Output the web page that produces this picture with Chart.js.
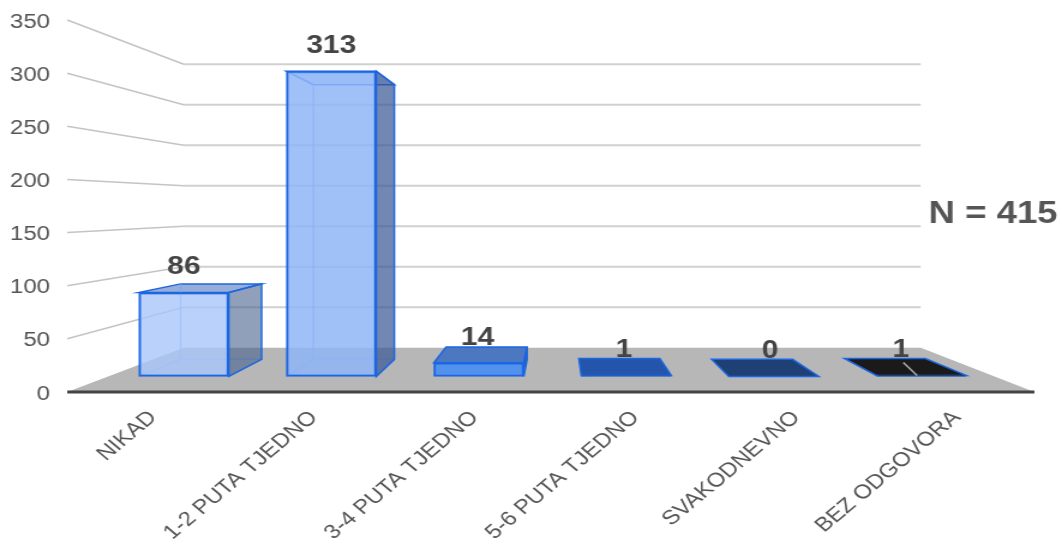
<!DOCTYPE html>
<html lang="en">
<head>
<meta charset="UTF-8">
<title>N = 415</title>
<script src="https://cdn.jsdelivr.net/npm/chart.js"></script>
<style>
    html, body { margin: 0; padding: 0; background: #fff; overflow: hidden; }
    /* the reference is a narrower picture stretched sideways and a bit soft, so the canvas is too */
    #chart { display: block; width: 1062px !important; height: 546px !important; filter: blur(0.5px); }
</style>
</head>
<body>
<canvas id="chart" width="885" height="546"></canvas>
<script>
const categories = ['NIKAD', '1-2 PUTA TJEDNO', '3-4 PUTA TJEDNO', '5-6 PUTA TJEDNO', 'SVAKODNEVNO', 'BEZ ODGOVORA'];
const values = [86, 313, 14, 1, 0, 1];
const totalLabel = 'N = 415';

const frontFill = ['rgba(169,199,250,.8)', 'rgba(143,181,247,.85)', '#5391ef', '#2356ab', '#1f4075', '#1a1a1a'];
const topFill = ['rgba(80,120,190,.6)', 'rgba(90,140,230,.25)', '#4b78c0', '#2356ab', '#1f4075', '#1a1a1a'];
const sideFill = ['rgba(70,95,140,.6)', 'rgba(60,90,150,.72)', '#2a5cab', '#2356ab', '#1f4075', '#1a1a1a'];
const labelShift = [0, 0, -1, -2, -3, -17];

// vanishing point of the fake 3D box
const vpX = 464, vpY = 206;
const barDepth = 0.9, wallDepth = 0.762;
const project = (x, y, k) => [vpX + k * (x - vpX), vpY + k * (y - vpY)];

function quad(ctx, pts, fill, stroke, lw) {
    ctx.beginPath();
    pts.forEach((p, i) => i ? ctx.lineTo(p[0], p[1]) : ctx.moveTo(p[0], p[1]));
    ctx.closePath();
    if (fill) { ctx.fillStyle = fill; ctx.fill(); }
    if (stroke) { ctx.strokeStyle = stroke; ctx.lineWidth = lw; ctx.stroke(); }
}

const box3d = {
    id: 'box3d',
    beforeDatasetsDraw(chart) {
        const ctx = chart.ctx, y = chart.scales.y;
        const left = 56, right = 862;
        ctx.save();
        // floor
        const z = y.getPixelForValue(0);
        quad(ctx, [[left, z], [right, z], project(right, z, wallDepth), project(left, z, wallDepth)], '#b7b7b7');
        // side wall and back wall lines
        y.ticks.forEach(t => {
            if (t.value === 0) return;
            const py = y.getPixelForValue(t.value);
            const a = project(left, py, wallDepth), b = project(right, py, wallDepth);
            ctx.strokeStyle = '#c4c4c4';
            ctx.lineWidth = 1.6;
            ctx.beginPath();
            ctx.moveTo(left, py);
            ctx.lineTo(a[0], a[1]);
            ctx.stroke();
            ctx.strokeStyle = '#d0d0d0';
            ctx.lineWidth = 2;
            ctx.beginPath();
            ctx.moveTo(a[0], a[1]);
            ctx.lineTo(b[0], b[1]);
            ctx.stroke();
        });
        ctx.strokeStyle = '#444';
        ctx.lineWidth = 3;
        ctx.beginPath();
        ctx.moveTo(left, z);
        ctx.lineTo(right, z);
        ctx.stroke();

        // back parts of the bars, the front face comes from the bar element itself
        chart.getDatasetMeta(0).data.forEach((bar, i) => {
            const x0 = bar.x - bar.width / 2, x1 = bar.x + bar.width / 2;
            const top = bar.y, base = bar.base;
            const tl = project(x0, top, barDepth), tr = project(x1, top, barDepth);
            const bl = project(x0, base, barDepth), br = project(x1, base, barDepth);
            const edge = '#1c66e2';
            quad(ctx, [[x0, top], [x1, top], tr, tl], topFill[i], edge, 1.5);
            if (values[i] > 20) {
                ctx.strokeStyle = 'rgba(120,165,245,.7)';
                ctx.lineWidth = 1.5;
                ctx.beginPath();
                ctx.moveTo(tl[0], tl[1]); ctx.lineTo(bl[0], bl[1]); ctx.lineTo(br[0], br[1]);
                ctx.moveTo(x0, base); ctx.lineTo(bl[0], bl[1]);
                ctx.stroke();
            }
            if (x1 < vpX) quad(ctx, [[x1, top], tr, br, [x1, base]], sideFill[i], edge, 1.5);
        });
        ctx.restore();
    },
    afterDatasetsDraw(chart) {
        const ctx = chart.ctx;
        const bars = chart.getDatasetMeta(0).data;
        ctx.save();
        // small light scratch on the black plate
        const last = bars[bars.length - 1];
        ctx.strokeStyle = '#aaa';
        ctx.lineWidth = 1.5;
        ctx.beginPath();
        ctx.moveTo(last.x - 15, last.y - 13);
        ctx.lineTo(last.x - 3.5, last.y);
        ctx.stroke();

        ctx.textAlign = 'center';
        ctx.textBaseline = 'middle';
        ctx.fillStyle = '#444';
        ctx.font = 'bold 25px "Liberation Sans"';
        bars.forEach((bar, i) => {
            ctx.fillText(values[i], bar.x + labelShift[i], bar.y - 25);
        });
        ctx.fillStyle = '#555';
        ctx.font = 'bold 30.5px "Liberation Sans"';
        ctx.fillText(totalLabel, 827.5, 215);
        ctx.restore();
    }
};

new Chart(document.getElementById('chart'), {
    type: 'bar',
    data: {
        labels: categories,
        datasets: [{
            data: values,
            yAxisID: 'yBars',
            xAxisID: 'x',
            backgroundColor: frontFill,
            borderColor: '#1c66e2',
            borderWidth: 2,
            borderSkipped: false,
            barThickness: 75
        }]
    },
    options: {
        responsive: false,
        devicePixelRatio: 1,
        animation: false,
        layout: { autoPadding: false, padding: { top: 20, right: 55.8, left: 0, bottom: 0 } },
        plugins: { legend: { display: false }, tooltip: { enabled: false } },
        scales: {
            x: { type: 'category', display: false, offset: true },
            // labels sit wider apart than the bars, so they get their own axis
            xLabels: {
                type: 'linear',
                position: 'bottom',
                offset: false,
                min: -0.267,
                max: 5.236,
                afterFit: s => { s.height = 154; },
                grid: { display: false, offset: false },
                border: { display: false },
                ticks: {
                    stepSize: 1,
                    includeBounds: false,
                    autoSkip: false,
                    minRotation: 45,
                    maxRotation: 45,
                    padding: 6,
                    color: '#555',
                    font: { family: 'Liberation Sans', size: 20 },
                    callback: v => categories[v]
                }
            },
            y: {
                min: 0,
                max: 350,
                // tick padding also counts as vertical padding in the layout, drop that
                afterFit: s => { s.width = 91.67; s.paddingTop = 0; s.paddingBottom = 0; },
                grid: { display: false },
                border: { display: false },
                ticks: {
                    stepSize: 50,
                    padding: 42,
                    labelOffset: 2,
                    color: '#555',
                    font: { family: 'Liberation Sans', size: 20 }
                }
            },
            // bars stand on a nearer plane than the axis, 0 is higher up and units are smaller
            yBars: { display: false, min: -16, max: 365.5 }
        }
    },
    plugins: [box3d]
});
</script>
</body>
</html>
